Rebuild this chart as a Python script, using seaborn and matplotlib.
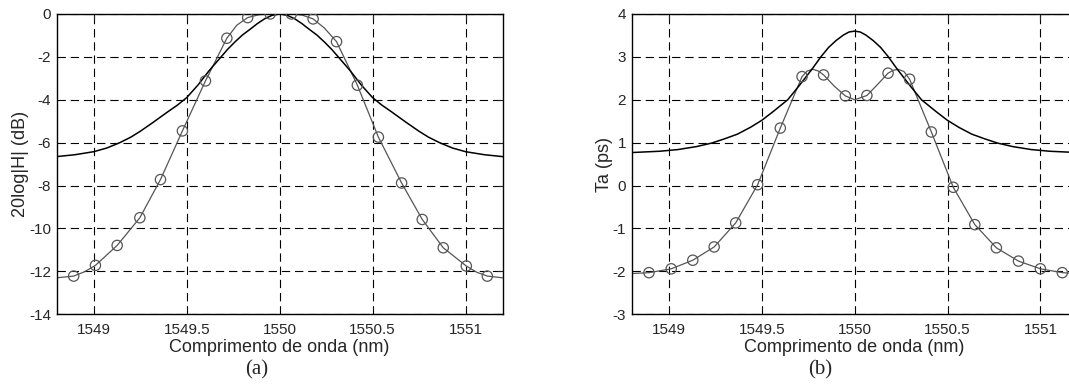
import seaborn as sns
import matplotlib.pyplot as plt
import pandas as pd

# ---- data ----
# (a) 20log|H| in dB
a_mark_x = [1548.892, 1549.009, 1549.126, 1549.248, 1549.359, 1549.477, 1549.601,
            1549.716, 1549.828, 1549.949, 1550.063, 1550.180, 1550.306, 1550.418,
            1550.531, 1550.656, 1550.767, 1550.880, 1551.004, 1551.117]
a_mark_y = [-12.22, -11.72, -10.79, -9.50, -7.72, -5.45, -3.12, -1.13, -0.17, 0.0,
            0.0, -0.23, -1.29, -3.32, -5.74, -7.88, -9.58, -10.90, -11.75, -12.22]
a_gray_x = [1548.80, 1548.892, 1548.95, 1549.009, 1549.126, 1549.248, 1549.359,
            1549.477, 1549.601, 1549.716, 1549.77, 1549.828, 1549.89, 1549.949,
            1550.006, 1550.063, 1550.12, 1550.180, 1550.24, 1550.306, 1550.418,
            1550.531, 1550.656, 1550.767, 1550.880, 1551.004, 1551.06, 1551.117, 1551.20]
a_gray_y = [-12.30, -12.22, -12.02, -11.72, -10.79, -9.50, -7.72,
            -5.45, -3.12, -1.13, -0.52, -0.17, -0.03, 0.0,
            0.02, 0.0, -0.05, -0.23, -0.65, -1.29, -3.32,
            -5.74, -7.88, -9.58, -10.90, -11.75, -12.04, -12.22, -12.30]

a_black_x = [1548.80, 1548.90, 1549.00, 1549.07, 1549.14, 1549.20, 1549.25, 1549.32,
             1549.40, 1549.45, 1549.50, 1549.56, 1549.62, 1549.67, 1549.72, 1549.76,
             1549.80, 1549.84, 1549.88, 1549.92, 1549.96, 1550.00,
             1550.04, 1550.08, 1550.12, 1550.16, 1550.20, 1550.24, 1550.28, 1550.33,
             1550.38, 1550.44, 1550.50, 1550.55, 1550.60, 1550.68, 1550.75, 1550.80,
             1550.86, 1550.93, 1551.00, 1551.10, 1551.20]
a_black_y = [-6.65, -6.56, -6.42, -6.25, -6.00, -5.74, -5.47, -5.05,
             -4.55, -4.25, -3.90, -3.32, -2.65, -2.15, -1.65, -1.30,
             -0.98, -0.72, -0.45, -0.22, -0.06, 0.0,
             -0.06, -0.22, -0.45, -0.72, -0.98, -1.30, -1.65, -2.15,
             -2.65, -3.32, -3.90, -4.25, -4.55, -5.05, -5.47, -5.74,
             -6.00, -6.25, -6.42, -6.56, -6.65]

# (b) Ta in ps
b_mark_x = [1548.893, 1549.013, 1549.129, 1549.244, 1549.360, 1549.478, 1549.600,
            1549.717, 1549.833, 1549.950, 1550.066, 1550.180, 1550.296, 1550.413,
            1550.531, 1550.647, 1550.763, 1550.882, 1551.000, 1551.118]
b_mark_y = [-2.03, -1.94, -1.74, -1.43, -0.87, 0.02, 1.34, 2.54, 2.58, 2.09,
            2.10, 2.62, 2.48, 1.25, -0.04, -0.91, -1.45, -1.76, -1.94, -2.03]
b_gray_x = [1548.80, 1548.893, 1549.013, 1549.129, 1549.244, 1549.360, 1549.478,
            1549.600, 1549.717, 1549.745, 1549.775, 1549.805, 1549.833, 1549.89,
            1549.950, 1550.000, 1550.066, 1550.12, 1550.180, 1550.21, 1550.235,
            1550.265, 1550.296, 1550.413, 1550.531, 1550.647, 1550.763,
            1550.882, 1551.000, 1551.118, 1551.20]
b_gray_y = [-2.05, -2.03, -1.94, -1.74, -1.43, -0.87, 0.02,
            1.34, 2.54, 2.67, 2.71, 2.67, 2.58, 2.32,
            2.09, 2.00, 2.10, 2.34, 2.62, 2.69, 2.71,
            2.66, 2.48, 1.25, -0.04, -0.91, -1.45,
            -1.76, -1.94, -2.03, -2.05]

b_black_x = [1548.80, 1548.95, 1549.05, 1549.15, 1549.23, 1549.30, 1549.37, 1549.44,
             1549.50, 1549.56, 1549.64, 1549.70, 1549.77, 1549.82, 1549.86, 1549.90,
             1549.94, 1549.97, 1550.00, 1550.03, 1550.06, 1550.10, 1550.14, 1550.18,
             1550.23, 1550.30, 1550.36, 1550.44, 1550.50, 1550.56, 1550.63, 1550.70,
             1550.77, 1550.85, 1550.95, 1551.05, 1551.20]
b_black_y = [0.77, 0.80, 0.84, 0.91, 0.99, 1.09, 1.20, 1.36,
             1.52, 1.72, 2.00, 2.32, 2.71, 3.01, 3.22, 3.38,
             3.51, 3.58, 3.60, 3.58, 3.51, 3.38, 3.22, 3.01,
             2.71, 2.32, 2.00, 1.72, 1.52, 1.36, 1.20, 1.09,
             0.99, 0.91, 0.84, 0.80, 0.77]

xticks = [1549, 1549.5, 1550, 1550.5, 1551]
xtick_labels = ["1549", "1549.5", "1550", "1550.5", "1551"]
a_yticks = [0, -2, -4, -6, -8, -10, -12, -14]
b_yticks = [4, 3, 2, 1, 0, -1, -2, -3]

sns.set_style("white")
plt.rcParams['font.family'] = ['Liberation Sans', 'DejaVu Sans']
plt.rcParams['axes.unicode_minus'] = False
plt.rcParams['lines.scale_dashes'] = False

fig = plt.figure(figsize=(10.69, 3.87), dpi=100)
ax_a = fig.add_axes([0.0529, 0.1879, 0.4174, 0.776])
ax_b = fig.add_axes([0.5909, 0.1879, 0.4171, 0.776])

gray = "#555555"

def draw(ax, gx, gy, mx, my, bx, by, yticks, ylim, ylabel):
    sns.lineplot(x=gx, y=gy, ax=ax, color=gray, linewidth=0.9)
    sns.lineplot(x=bx, y=by, ax=ax, color="black", linewidth=1.1)
    sns.scatterplot(x=mx, y=my, ax=ax, marker="o", s=55, facecolor="none",
                    edgecolor=gray, linewidth=0.9, zorder=3)
    ax.set_xlim(1548.8, 1551.2)
    ax.set_ylim(*ylim)
    ax.set_xticks(xticks)
    ax.set_xticklabels(xtick_labels)
    ax.set_yticks(yticks)
    ax.set_yticklabels([str(t) for t in yticks])
    ax.grid(True, color="black", linestyle=(0, (6, 3.5)), linewidth=0.8)
    ax.tick_params(direction="in", length=4, width=0.8, labelsize=11,
                   top=True, right=True, pad=4)
    ax.tick_params(axis="x", pad=6)
    for sp in ax.spines.values():
        sp.set_color("black")
        sp.set_linewidth(1.0)
    ax.set_xlabel("Comprimento de onda (nm)", fontsize=13, labelpad=2)
    ax.set_ylabel(ylabel, fontsize=13, labelpad=0)

draw(ax_a, a_gray_x, a_gray_y, a_mark_x, a_mark_y, a_black_x, a_black_y,
     a_yticks, (-14, 0), "20log|H| (dB)")
draw(ax_b, b_gray_x, b_gray_y, b_mark_x, b_mark_y, b_black_x, b_black_y,
     b_yticks, (-3, 4), "Ta (ps)")

fig.text(0.2404, 0.044, "(a)", ha="center", va="center", fontsize=15,
         family=["Liberation Serif", "DejaVu Serif"])
fig.text(0.767, 0.044, "(b)", ha="center", va="center", fontsize=15,
         family=["Liberation Serif", "DejaVu Serif"])

fig.savefig("out.png", dpi=100)
